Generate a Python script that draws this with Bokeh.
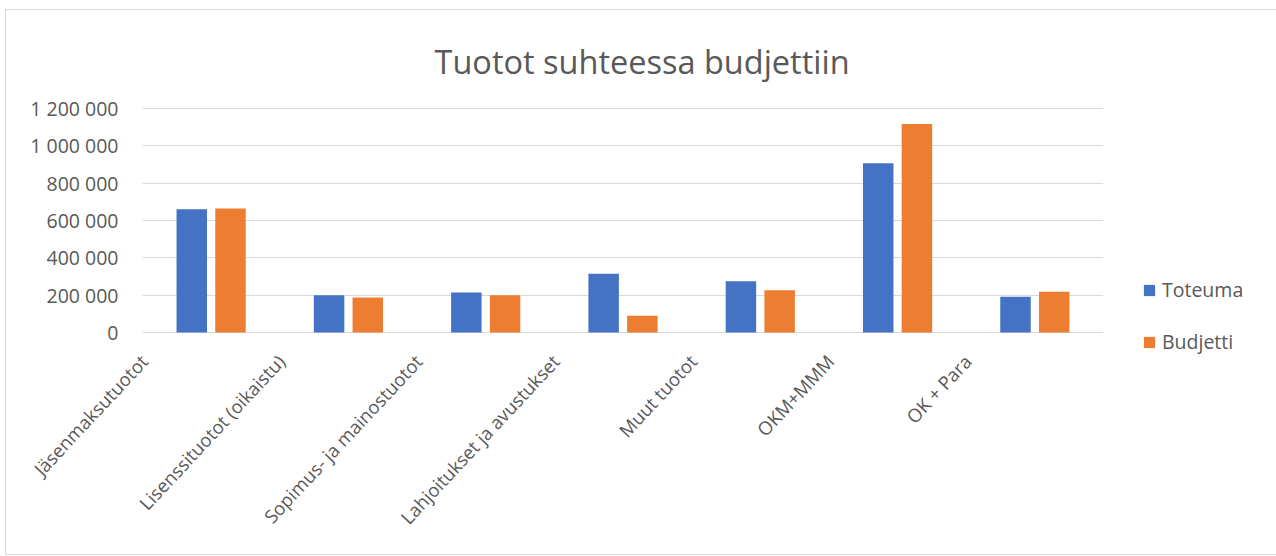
import math
from bokeh.plotting import figure
from bokeh.layouts import column, row
from bokeh.models import (Range1d, FixedTicker, Legend, LegendItem,
                          LinearAxis, ColumnDataSource, Spacer, Title)
from bokeh.transform import dodge
from bokeh.embed import file_html
from bokeh.resources import INLINE

# ---- data ----
categories = ["Jäsenmaksutuotot", "Lisenssituotot (oikaistu)", "Sopimus- ja mainostuotot",
              "Lahjoitukset ja avustukset", "Muut tuotot", "OKM+MMM", "OK + Para"]
toteuma = [660000, 199000, 214000, 315000, 274000, 907000, 191000]
budjetti = [665000, 187000, 199000, 89000, 226000, 1117000, 218000]
y_ticks = [0, 200000, 400000, 600000, 800000, 1000000, 1200000]
y_tick_labels = ["0", "200 000", "400 000", "600 000", "800 000", "1 000 000", "1 200 000"]
series_names = ["Toteuma", "Budjetti"]
title_text = "Tuotot suhteessa budjettiin"

FONT = "Open Sans"
TXT = "#595959"
BLUE = "#4472C4"
ORANGE = "#ED7D31"
GRID = "#d9d9d9"

n = len(categories)
cat_pos = [i + 0.5 for i in range(n)]
cat_idx = list(range(n))
src = ColumnDataSource(dict(pos=cat_pos, cat=categories, toteuma=toteuma, budjetti=budjetti))

p = figure(x_range=Range1d(0, n), y_range=Range1d(-6000, 1206000),
           frame_width=959, frame_height=224,
           min_border_left=136, min_border_right=173,
           min_border_top=97, min_border_bottom=223,
           output_backend="svg", toolbar_location=None,
           background_fill_color="white", border_fill_color="white",
           outline_line_color=None,
           styles={"border": "1px solid #d9d9d9"})

p.title = Title(text=title_text, align="left", offset=292,
                text_font=FONT, text_font_size="32.5px", text_font_style="normal",
                text_color=TXT, standoff=48)

r1 = p.vbar(x=dodge("pos", -0.141), top="toteuma", width=0.222,
            source=src, fill_color=BLUE, line_color=None)
r2 = p.vbar(x=dodge("pos", 0.141), top="budjetti", width=0.222,
            source=src, fill_color=ORANGE, line_color=None)

# axes
p.xaxis.visible = False
p.xgrid.visible = False
yax = p.yaxis[0]
yax.ticker = FixedTicker(ticks=y_ticks)
yax.major_label_overrides = {t: l for t, l in zip(y_ticks, y_tick_labels)}
yax.axis_line_color = None
yax.major_tick_line_color = None
yax.minor_tick_line_color = None
yax.major_tick_out = 0
yax.major_label_standoff = 24
yax.major_label_text_font = FONT
yax.major_label_text_font_size = "19.5px"
yax.major_label_text_color = TXT
p.ygrid.ticker = FixedTicker(ticks=y_ticks)
p.ygrid.grid_line_color = GRID
p.ygrid.grid_line_width = 1

# category labels on a shifted helper axis (labels sit left of the bar pairs)
p.extra_x_ranges = {"lab": Range1d(-0.01, n - 0.01)}
cax = LinearAxis(x_range_name="lab", ticker=FixedTicker(ticks=cat_idx),
                 major_label_overrides={c: s for c, s in zip(cat_idx, categories)},
                 major_label_orientation=math.radians(47),
                 axis_line_color=None, major_tick_line_color=None,
                 minor_tick_line_color=None, major_tick_out=0,
                 major_label_standoff=24,
                 major_label_text_font=FONT, major_label_text_font_size="18.5px",
                 major_label_text_color=TXT)
p.add_layout(cax, "below")

# legend
legend = Legend(items=[LegendItem(label=series_names[0], renderers=[r1]),
                       LegendItem(label=series_names[1], renderers=[r2])],
                location=(39, -22), orientation="vertical",
                padding=0, margin=0, spacing=25,
                glyph_width=14, glyph_height=14, label_height=20,
                label_standoff=6,
                label_text_font=FONT, label_text_font_size="19.5px",
                label_text_color=TXT,
                background_fill_alpha=0, border_line_color=None)
p.add_layout(legend, "right")

root = column(Spacer(height=9), row(Spacer(width=5), p))
open("out.html", "w").write(file_html(root, INLINE))
